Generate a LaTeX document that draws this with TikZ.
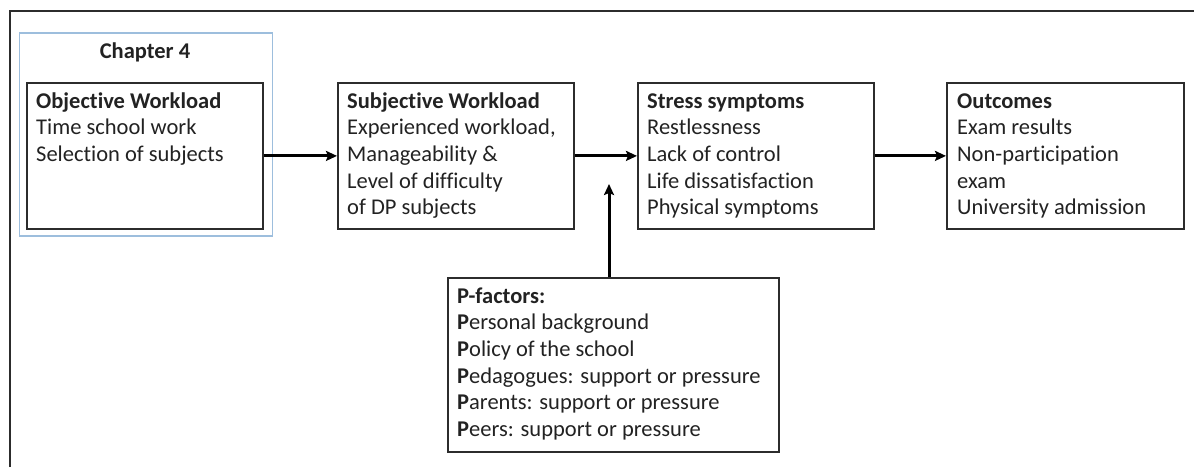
\documentclass[tikz,border=0pt]{standalone}
\usepackage{fontspec}
\setmainfont{Carlito}[Ligatures=NoCommon]
\usetikzlibrary{arrows.meta,calc}
\definecolor{ink}{HTML}{222222}
\definecolor{frameline}{HTML}{2C2C2C}
\definecolor{chapblue}{HTML}{9DBEDD}
\begin{document}
\begin{tikzpicture}[x=1pt,y=-1pt,
  panel/.style={draw=frameline,line width=1.8pt,minimum width=#1,minimum height=146pt,inner sep=0pt,anchor=north west},
  panel/.default=236pt,
  panelText/.style={anchor=base west,inner sep=0pt,text=ink,font=\fontsize{22.5}{26.7}\selectfont},
  flow/.style={line width=3pt,draw=black,-{Stealth[length=11pt,width=10pt,inset=2pt]}}]
\useasboundingbox (0,0) rectangle (1194,467);

% partial outer frame (top and left edges)
\draw[frameline,line width=2.8pt] (10,467) -- (10,11) -- (1194,11);

% chapter grouping
\node[draw=chapblue,line width=1.5pt,minimum width=253pt,minimum height=203pt,inner sep=0pt,anchor=north west] (chap) at (18.5,32) {};
\node[anchor=base,inner sep=0pt,text=ink,font=\fontsize{22.5}{26.7}\selectfont\bfseries] (chaptitle) at (145,58) {Chapter 4};

% the four stages
\node[panel] (obj) at (26,82) {};
\node[panel] (subj) at (337,82) {};
\node[panel] (stress) at (637,82) {};
\node[panel=237pt] (out) at (946,82) {};

\newcommand{\stagetext}[1]{\begin{tabular}[t]{@{}l@{}}#1\end{tabular}}

\node[panelText] (objtxt) at ($(obj.north west)+(10,26)$) {\stagetext{\textbf{Objective Workload}\\Time school work\\Selection of subjects}};
\node[panelText] (subjtxt) at ($(subj.north west)+(10,26)$) {\stagetext{\textbf{Subjective Workload}\\Experienced workload,\\Manageability \&\\Level of difficulty\\of DP subjects}};
\node[panelText] (stresstxt) at ($(stress.north west)+(10,26)$) {\stagetext{\textbf{Stress symptoms}\\Restlessness\\Lack of control\\Life dissatisfaction\\Physical symptoms}};
\node[panelText] (outtxt) at ($(out.north west)+(11,26)$) {\stagetext{\textbf{Outcomes}\\Exam results\\Non-participation\\exam\\University admission}};

% P-factors
\node[draw=frameline,line width=1.8pt,minimum width=331pt,minimum height=174pt,inner sep=0pt,anchor=north west] (pf) at (447,277) {};
\node[panelText] (pftxt) at ($(pf.north west)+(10,26)$) {\stagetext{\textbf{P-factors:}\\\textbf{P}ersonal background\\\textbf{P}olicy of the school\\\textbf{P}edagogues: support or pressure\\\textbf{P}arents: support or pressure\\\textbf{P}eers: support or pressure}};

% connectors
\draw[flow] (obj.east) -- (subj.west);
\draw[flow] (subj.east) -- (stress.west);
\draw[flow] (stress.east) -- (out.west);
\coordinate (ptip) at (609,184);
\draw[flow] (ptip |- pf.north) -- (ptip);
\end{tikzpicture}
\end{document}
